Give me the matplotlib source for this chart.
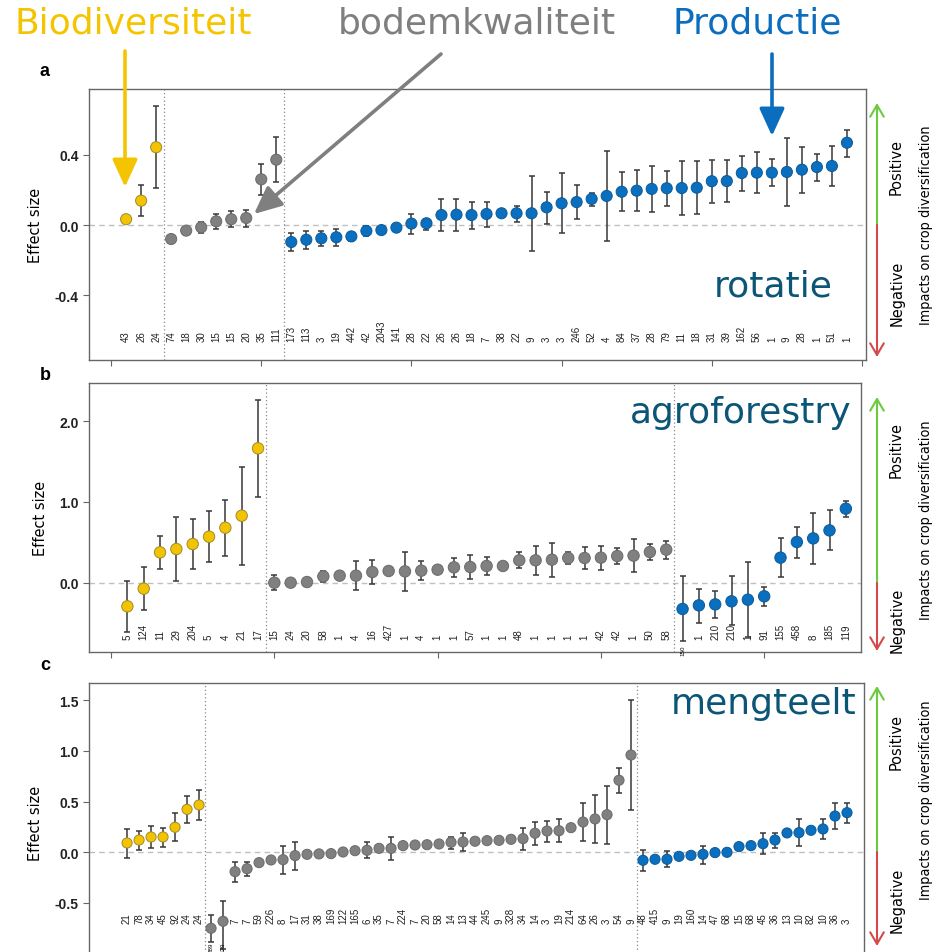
import numpy as np
import matplotlib.pyplot as plt
from matplotlib import font_manager

W, H = 941, 953

YELLOW = '#f2c300'
GREY = '#808080'
BLUE = '#0b6fc0'
EDGES = ['#a08a30', '#6a6a6a', '#0a5a98']
TEAL = '#0b5576'

# ---------- panel a : rotatie ----------
a_groups = [3, 8, 38]
a_labels = [43, 26, 24,
            74, 18, 30, 15, 15, 20, 35, 111,
            173, 113, 3, 19, 442, 42, 2043, 141, 28, 22, 26, 26, 18, 7, 38, 22, 9, 3, 3,
            246, 52, 4, 84, 37, 28, 79, 11, 18, 31, 39, 162, 56, 1, 9, 28, 1, 51, 1]
a_es = [0.033, 0.139, 0.444,
        -0.08, -0.032, -0.013, 0.021, 0.033, 0.04, 0.261, 0.373,
        -0.097, -0.084, -0.076, -0.07, -0.065, -0.034, -0.029, -0.015, 0.008, 0.01,
        0.057, 0.059, 0.057, 0.063, 0.067, 0.067, 0.067, 0.101, 0.124, 0.131,
        0.149, 0.166, 0.19, 0.196, 0.206, 0.21, 0.211, 0.213, 0.25, 0.251,
        0.297, 0.299, 0.299, 0.303, 0.316, 0.331, 0.337, 0.47]
a_lo = [0.033, 0.053, 0.21,
        -0.08, -0.032, -0.046, -0.023, -0.013, -0.01, 0.173, 0.246,
        -0.149, -0.137, -0.122, -0.118, -0.093, -0.063, -0.029, -0.03, -0.051, -0.027,
        -0.036, -0.036, -0.023, -0.012, 0.044, 0.019, -0.15, 0.006, -0.048, 0.032,
        0.107, -0.093, 0.082, 0.082, 0.076, 0.107, 0.057, 0.063, 0.126, 0.13,
        0.196, 0.183, 0.221, 0.109, 0.185, 0.253, 0.221, 0.39]
a_hi = [0.033, 0.229, 0.678,
        -0.08, -0.032, 0.019, 0.065, 0.08, 0.087, 0.349, 0.503,
        -0.048, -0.032, -0.032, -0.025, -0.046, -0.006, -0.029, 0.0, 0.065, 0.034,
        0.149, 0.149, 0.133, 0.133, 0.086, 0.11, 0.282, 0.19, 0.295, 0.23,
        0.183, 0.423, 0.301, 0.312, 0.335, 0.307, 0.364, 0.367, 0.371, 0.371,
        0.396, 0.415, 0.379, 0.497, 0.447, 0.408, 0.453, 0.545]

# ---------- panel b : agroforestry ----------
b_groups = [9, 25, 11]
b_labels = [5, 124, 11, 29, 204, 5, 4, 21, 17,
            15, 24, 20, 58, 1, 4, 16, 427, 1, 4, 1, 1, 57, 1, 1, 48, 1, 1, 1, 1, 42, 42, 1, 50, 58,
            150, 1, 210, 210, 1, 91, 155, 458, 8, 185, 119]
b_es = [-0.293, -0.074, 0.376, 0.417, 0.479, 0.57, 0.681, 0.83, 1.665,
        0.0, 0.0, 0.008, 0.078, 0.087, 0.087, 0.132, 0.145, 0.14, 0.149,
        0.161, 0.19, 0.194, 0.207, 0.207, 0.277, 0.277, 0.285, 0.306, 0.306,
        0.31, 0.33, 0.335, 0.38, 0.409,
        -0.326, -0.281, -0.269, -0.231, -0.211, -0.169, 0.31, 0.504, 0.549, 0.648, 0.917]
b_lo = [-0.611, -0.343, 0.169, 0.021, 0.169, 0.26, 0.335, 0.223, 1.062,
        -0.095, -0.03, -0.01, 0.008, 0.041, -0.095, -0.021, 0.13, -0.103, 0.029,
        0.145, 0.07, 0.041, 0.095, 0.19, 0.178, 0.099, 0.07, 0.231, 0.169,
        0.161, 0.227, 0.136, 0.285, 0.294,
        -0.727, -0.496, -0.442, -0.529, -0.673, -0.285, 0.066, 0.31, 0.227, 0.4, 0.814]
b_hi = [0.025, 0.194, 0.582, 0.809, 0.785, 0.884, 1.025, 1.437, 2.268,
        0.099, 0.03, 0.026, 0.14, 0.128, 0.264, 0.285, 0.16, 0.384, 0.264,
        0.177, 0.306, 0.339, 0.318, 0.224, 0.376, 0.458, 0.491, 0.376, 0.442,
        0.455, 0.43, 0.537, 0.475, 0.517,
        0.078, -0.074, -0.103, 0.078, 0.26, -0.058, 0.554, 0.69, 0.867, 0.896, 1.016]

# ---------- panel c : mengteelt ----------
c_groups = [7, 36, 18]
c_labels = [21, 78, 34, 45, 92, 24, 24,
            289, 129, 7, 7, 59, 226, 8, 17, 31, 38, 169, 122, 165, 6, 35, 7, 224, 7, 20, 58,
            14, 13, 44, 245, 9, 328, 34, 14, 3, 19, 214, 64, 26, 3, 54, 9,
            48, 415, 9, 19, 160, 14, 47, 68, 15, 68, 45, 36, 13, 10, 82, 10, 36, 3]
c_es = [0.092, 0.121, 0.151, 0.151, 0.247, 0.424, 0.467,
        -0.75, -0.681, -0.191, -0.162, -0.102, -0.076, -0.073, -0.033, -0.02, -0.016,
        -0.013, 0.003, 0.016, 0.02, 0.039, 0.039, 0.066, 0.072, 0.075, 0.082,
        0.099, 0.102, 0.109, 0.115, 0.118, 0.128, 0.135, 0.188, 0.21, 0.213,
        0.243, 0.299, 0.329, 0.371, 0.711, 0.96,
        -0.079, -0.069, -0.069, -0.04, -0.03, -0.02, -0.003, 0.0, 0.056, 0.066,
        0.085, 0.121, 0.191, 0.194, 0.217, 0.23, 0.358, 0.391]
c_lo = [-0.053, 0.023, 0.046, 0.056, 0.109, 0.293, 0.316,
        -0.882, -0.95, -0.29, -0.237, -0.115, -0.076, -0.214, -0.171, -0.03, -0.025,
        -0.02, -0.005, 0.008, -0.059, 0.03, -0.079, 0.06, 0.047, 0.065, 0.072,
        0.036, 0.013, 0.085, 0.108, 0.095, 0.12, 0.023, 0.075, 0.105, 0.105,
        0.243, 0.112, 0.089, 0.085, 0.585, 0.418,
        -0.184, -0.09, -0.145, -0.055, -0.04, -0.112, -0.012, -0.005, 0.026, 0.066,
        -0.02, 0.039, 0.16, 0.059, 0.217, 0.128, 0.227, 0.293]
c_hi = [0.23, 0.213, 0.257, 0.243, 0.385, 0.553, 0.612,
        -0.619, -0.484, -0.099, -0.092, -0.089, -0.076, 0.066, 0.105, -0.01, -0.007,
        -0.006, 0.011, 0.024, 0.099, 0.048, 0.154, 0.072, 0.097, 0.085, 0.092,
        0.154, 0.188, 0.133, 0.122, 0.141, 0.136, 0.243, 0.299, 0.312, 0.326,
        0.243, 0.484, 0.569, 0.658, 0.832, 1.503,
        0.023, -0.048, 0.01, -0.025, -0.02, 0.066, 0.006, 0.005, 0.086, 0.066,
        0.188, 0.194, 0.222, 0.326, 0.217, 0.326, 0.49, 0.484]

# a condensed face for the side texts, if there is one
installed = {f.name for f in font_manager.fontManager.ttflist}
if 'Liberation Sans Narrow' in installed:
    NARROW = dict(family='Liberation Sans Narrow')
    NSCALE = 1.0
else:
    NARROW = dict(family='DejaVu Sans', stretch='condensed')
    NSCALE = 0.9


def fx(px):
    return px / W


def fy(py):
    return 1 - py / H


def draw_panel(ax, labels, es, lo, hi, groups, label_y, msize, small={}):
    es = np.array(es)
    lo = np.array(lo)
    hi = np.array(hi)
    x = np.arange(1, len(es) + 1)
    cols, edges = [], []
    for c, e, n in zip([YELLOW, GREY, BLUE], EDGES, groups):
        cols += [c] * n
        edges += [e] * n

    ax.axhline(0, color='#c0c0c0', ls=(0, (4, 3)), lw=1, zorder=0)
    for b in np.cumsum(groups)[:-1]:
        ax.axvline(b + 0.5, color='#8a8a8a', ls=(0, (1, 2)), lw=0.9, zorder=0)

    ax.errorbar(x, es, yerr=[es - lo, hi - es], fmt='none', ecolor='#383838',
                elinewidth=1.1, capsize=2, capthick=1.1, zorder=2)
    ax.scatter(x, es, s=msize ** 2, c=cols, edgecolors=edges, linewidths=0.7, zorder=3)

    for i, (xi, lab) in enumerate(zip(x, labels)):
        if i in small:
            ax.text(xi, small[i], str(lab), rotation=90, ha='center', va='top',
                    fontsize=4.5, family='Liberation Sans', clip_on=False)
        else:
            ax.text(xi, label_y, str(lab), rotation=90, ha='center', va='bottom',
                    fontsize=7, family='Liberation Sans', color='#222222')

    for s in ax.spines.values():
        s.set_color('#666666')
        s.set_linewidth(1)
    ax.tick_params(direction='out', length=4, color='#666666')
    ax.set_xticklabels([])
    ax.set_ylabel('Effect size', fontsize=13 * NSCALE, labelpad=8, **NARROW)


def set_y(ax, ticks, texts):
    ax.set_yticks(ticks)
    ax.set_yticklabels(texts, fontsize=10, fontweight='bold', family='Liberation Sans',
                       color='#222222')


fig = plt.figure(figsize=(W / 100, H / 100), dpi=100)

ax_a = fig.add_axes([0.0946, 0.6212, 0.8257, 0.2844])
draw_panel(ax_a, a_labels, a_es, a_lo, a_hi, a_groups, -0.661, 8)
ax_a.set_xlim(-1.47, 50.27)
ax_a.set_ylim(-0.771, 0.777)
set_y(ax_a, [-0.4, 0.0, 0.4], ['-0.4', '0.0', '0.4'])
ax_a.set_xticks([0, 10, 20, 30, 40, 50])
ax_a.set_xticklabels([])

ax_b = fig.add_axes([0.0946, 0.3148, 0.8204, 0.2823])
draw_panel(ax_b, b_labels, b_es, b_lo, b_hi, b_groups, -0.694, 8.2, small={34: -0.77})
ax_b.set_xlim(-1.35, 45.93)
ax_b.set_ylim(-0.859, 2.475)
set_y(ax_b, [0.0, 1.0, 2.0], ['0.0', '1.0', '2.0'])
ax_b.set_xticks([0, 10, 20, 30, 40])
ax_b.set_xticklabels([])

ax_c = fig.add_axes([0.0946, -0.0100, 0.8236, 0.2923])
draw_panel(ax_c, c_labels, c_es, c_lo, c_hi, c_groups, -0.698, 7.3,
           small={7: -0.88, 8: -0.88})
ax_c.set_xlim(-2.17, 62.42)
ax_c.set_ylim(-1.078, 1.671)
set_y(ax_c, [-0.5, 0.0, 0.5, 1.0, 1.5], ['-0.5', '0.0', '0.5', '1.0', '1.5'])
ax_c.set_xticks([0, 10, 20, 30, 40, 50, 60])
ax_c.set_xticklabels([])

# panel letters
for letter, py in [('a', 72), ('b', 375), ('c', 666)]:
    fig.text(fx(45), fy(py), letter, fontsize=13, fontweight='bold',
             family='Liberation Sans', ha='center', va='center')

# panel titles
fig.text(fx(833), fy(287), 'rotatie', fontsize=26, color=TEAL, ha='right', va='center')
fig.text(fx(851), fy(413), 'agroforestry', fontsize=26, color=TEAL, ha='right', va='center')
fig.text(fx(856), fy(704), 'mengteelt', fontsize=26, color=TEAL, ha='right', va='center')

# category headers with arrows
fig.text(fx(15), fy(23), 'Biodiversiteit', fontsize=26, color='#f5c400', ha='left', va='center')
fig.text(fx(338), fy(23), 'bodemkwaliteit', fontsize=26, color='#7f7f7f', ha='left', va='center')
fig.text(fx(672), fy(23), 'Productie', fontsize=26, color='#0b6dbd', ha='left', va='center')

for (x0, y0, x1, y1, col) in [(125, 52, 125, 188, '#f5c400'),
                              (441, 55, 254, 215, '#7f7f7f'),
                              (772, 55, 772, 137, '#0b6dbd')]:
    fig.add_artist(plt.Annotation('', xy=(fx(x1), fy(y1)), xytext=(fx(x0), fy(y0)),
                                  xycoords='figure fraction',
                                  arrowprops=dict(arrowstyle='-|>,head_length=0.7,head_width=0.32',
                                                  mutation_scale=24, color=col, lw=2.6,
                                                  shrinkA=0, shrinkB=0)))

# impact arrows on the right
for top, mid, bot, pos_y, neg_y, imp_y in [(104, 226, 358, 167, 293, 225),
                                           (398, 584, 652, 450, 620, 520),
                                           (687, 853, 947, 742, 900, 800)]:
    fig.add_artist(plt.Annotation('', xy=(fx(877), fy(top)), xytext=(fx(877), fy(mid)),
                                  xycoords='figure fraction',
                                  arrowprops=dict(arrowstyle='->,head_length=0.6,head_width=0.35',
                                                  mutation_scale=14, color='#6ccb3c', lw=1.5,
                                                  shrinkA=0, shrinkB=0)))
    fig.add_artist(plt.Annotation('', xy=(fx(877), fy(bot)), xytext=(fx(877), fy(mid)),
                                  xycoords='figure fraction',
                                  arrowprops=dict(arrowstyle='->,head_length=0.6,head_width=0.35',
                                                  mutation_scale=14, color='#d34a4a', lw=1.5,
                                                  shrinkA=0, shrinkB=0)))
    fig.text(fx(896), fy(pos_y), 'Positive', rotation=90, fontsize=13 * NSCALE,
             ha='center', va='center', **NARROW)
    fig.text(fx(897), fy(neg_y), 'Negative', rotation=90, fontsize=13 * NSCALE,
             ha='center', va='center', **NARROW)
    fig.text(fx(926), fy(imp_y), 'Impacts on crop diversification', rotation=90,
             fontsize=11.5 * NSCALE, ha='center', va='center', **NARROW)

fig.savefig('out.png', dpi=100)
